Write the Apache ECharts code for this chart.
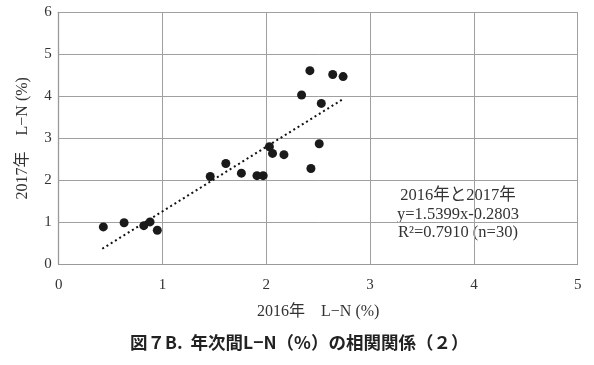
<!DOCTYPE html>
<html><head><meta charset="utf-8">
<script src="https://cdn.jsdelivr.net/npm/echarts@6/dist/echarts.min.js"></script>
<style>html,body{margin:0;padding:0;background:#fff}#c{width:594px;height:365px}</style>
</head><body><div id="c"></div>
<script>
const x2016 = [0.43,0.63,0.82,0.88,0.95,1.46,1.61,1.76,1.91,1.97,2.03,2.06,2.17,2.34,2.42,2.43,2.51,2.53,2.64,2.74];
const y2017 = [0.89,0.99,0.92,1.01,0.81,2.09,2.40,2.17,2.11,2.11,2.80,2.64,2.61,4.03,4.61,2.28,2.87,3.83,4.52,4.47];
const trendX = [0.42, 2.75];
const trendY = [0.37, 3.95];
const annotation = ['2016年と2017年','y=1.5399x-0.2803','R²=0.7910 (n=30)'];
const xName = '2016年　L−N (%)';
const yName = '2017年　L−N (%)';
const caption = '図７B.  年次間L−N（%）の相関関係（２）';

const serif = '"Liberation Serif","DejaVu Serif","Noto Sans CJK JP",serif';
const chart = echarts.init(document.getElementById('c'));
const pts = x2016.map((v,i)=>[v,y2017[i]]);
const trend = trendX.map((v,i)=>[v,trendY[i]]);
chart.setOption({
  animation:false,
  grid:{left:58.7,right:16.3,top:12.3,bottom:100.7,containLabel:false,outerBoundsMode:'none'},
  xAxis:{type:'value',min:0,max:5,interval:1,
    name:xName,nameLocation:'middle',nameGap:39,
    nameTextStyle:{fontFamily:serif,fontSize:16,color:'#333'},
    axisLine:{show:true,lineStyle:{color:'#999',width:1}},
    axisTick:{show:false},
    axisLabel:{fontFamily:serif,fontSize:15,color:'#333',margin:13},
    splitLine:{show:true,lineStyle:{color:'#a0a0a0',width:1}}},
  yAxis:{type:'value',min:0,max:6,interval:1,
    name:yName,nameLocation:'middle',nameGap:28,nameRotate:90,
    nameTextStyle:{fontFamily:serif,fontSize:16,color:'#333'},
    axisLine:{show:true,lineStyle:{color:'#999',width:1.3}},
    axisTick:{show:false},
    axisLabel:{fontFamily:serif,fontSize:15,color:'#333',margin:7},
    splitLine:{show:true,lineStyle:{color:'#a0a0a0',width:1}}},
  series:[
    {type:'line',data:trend,symbol:'none',silent:true,
      lineStyle:{color:'#111',width:2,type:[2,3]},z:1},
    {type:'scatter',data:pts,symbol:'circle',symbolSize:9,
      itemStyle:{color:'#1a1a1a',opacity:1},z:2}
  ],
  graphic:[
    {type:'text',left:130,top:334,
      style:{text:caption,font:'bold 17.5px "Noto Sans CJK JP",sans-serif',fill:'#222'}},
    {type:'text',x:458,y:187,
      style:{text:annotation.join('\n'),font:'16.5px '+serif,fill:'#333',align:'center',lineHeight:18.3}}
  ]
});
</script></body></html>
